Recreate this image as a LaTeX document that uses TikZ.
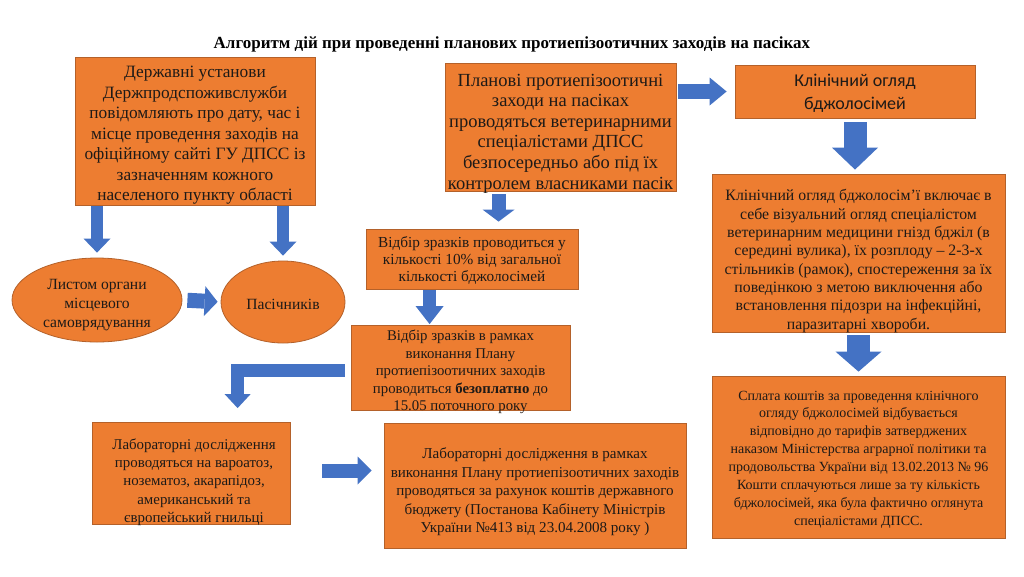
\documentclass[tikz,border=0pt]{standalone}
\usepackage{fontspec}
\setmainfont{Liberation Serif}
\newfontfamily\calibrifont{Carlito}
\usetikzlibrary{arrows.meta,calc,shapes.geometric}
\definecolor{boxfill}{HTML}{ED7D31}
\definecolor{boxline}{HTML}{B4612A}
\definecolor{arrowblue}{HTML}{4472C4}
\definecolor{txt}{HTML}{1E1A17}
\begin{document}
\begin{tikzpicture}[x=1pt,y=-1pt,
  box/.style={draw=boxline, line width=0.8pt, fill=boxfill, inner sep=0pt},
  oval/.style={ellipse, draw=boxline, line width=0.8pt, fill=boxfill, inner sep=0pt},
  label text/.style={align=center, inner sep=0pt, text=txt},
  barrow/.style n args={3}{draw=arrowblue, line width=#1, line join=miter,
     -{Triangle[width=#2,length=#3,line width=0pt,fill=arrowblue]}},
  f/.style n args={2}{font=\fontsize{#1}{#2}\selectfont}
]
\useasboundingbox (0,0) rectangle (1024,576);
\fill[white] (0,0) rectangle (1024,576);

\node[font=\bfseries\fontsize{17}{19}\selectfont, text=black] (title) at (512,44)
  {Алгоритм дій при проведенні планових протиепізоотичних заходів на пасіках};

% boxes
\node[box, minimum width=240pt, minimum height=148pt] (b1) at (195,131) {};
\node[box, minimum width=231pt, minimum height=128pt] (b2) at (560.5,127) {};
\node[box, minimum width=240pt, minimum height=53pt] (b3) at (855,91.5) {};
\node[box, minimum width=293pt, minimum height=158pt] (b4) at (858.5,253) {};
\node[box, minimum width=293pt, minimum height=162pt] (b5) at (858.5,457) {};
\node[box, minimum width=212pt, minimum height=60pt] (b6) at (472,259) {};
\node[box, minimum width=219pt, minimum height=85pt] (b7) at (460.5,368) {};
\node[box, minimum width=198pt, minimum height=102pt] (b8) at (191,473.5) {};
\node[box, minimum width=302pt, minimum height=125pt] (b9) at (535,485.5) {};
\node[oval, minimum width=170pt, minimum height=84pt] (e1) at (97,300) {};
\node[oval, minimum width=124pt, minimum height=82pt] (e2) at (283,302) {};

% texts
\node[label text, f={17.3}{20.5}] (t1) at ($(b1.center)+(0,4.5)$)
  {Державні установи\\Держпродспоживслужби\\повідомляють про дату, час і\\місце проведення заходів на\\офіційному сайті ГУ ДПСС  із\\зазначенням кожного\\населеного пункту області};

\node[label text, f={18.5}{20.6}] (t2) at ($(b2.center)+(0,6.5)$)
  {Планові протиепізоотичні\\заходи на пасіках\\проводяться ветеринарними\\спеціалістами ДПСС\\безпосередньо або під їх\\контролем власниками пасік};

\node[label text, font=\calibrifont\fontsize{18}{23}\selectfont] (t3) at ($(b3.center)+(0,2)$)
  {Клінічний огляд\\бджолосімей};

\node[label text, f={15.8}{18.3}] (t4) at ($(b4.center)+(0,8)$)
  {Клінічний огляд бджолосім’ї включає в\\себе візуальний огляд спеціалістом\\ветеринарним медицини гнізд бджіл (в\\середині вулика), їх розплоду – 2-3-х\\стільників (рамок), спостереження за їх\\поведінкою з метою виключення або\\встановлення підозри на інфекційні,\\паразитарні хвороби.};

\node[label text, f={14}{17.9}] (t5) at ($(b5.center)+(0,2.5)$)
  {Сплата коштів за проведення клінічного\\огляду бджолосімей  відбувається\\відповідно до тарифів затверджених\\наказом Міністерства аграрної політики та\\продовольства України від 13.02.2013 № 96\\Кошти сплачуються лише за ту кількість\\бджолосімей, яка була фактично оглянута\\спеціалістами ДПСС.};

\node[label text, f={15.3}{17.3}] (t6) at ($(b6.center)+(0,1.5)$)
  {Відбір зразків проводиться у\\кількості 10\% від загальної\\кількості бджолосімей};

\node[label text, f={14.8}{17.5}] (t7) at ($(b7.center)+(0,4)$)
  {Відбір зразків в рамках\\виконання Плану\\протиепізоотичних заходів\\проводиться \textbf{безоплатно} до\\15.05 поточного року};

\node[label text, f={14.9}{18.3}] (t8) at ($(b8.center)+(3,8.5)$)
  {Лабораторні дослідження\\проводяться на вароатоз,\\нозематоз, акарапідоз,\\американський та\\європейський гнильці};

\node[label text, f={15.1}{18.5}] (t9) at ($(b9.center)+(0,6.5)$)
  {Лабораторні дослідження в рамках\\виконання Плану протиепізоотичних заходів\\проводяться за рахунок коштів державного\\бюджету (Постанова Кабінету Міністрів\\України №413 від 23.04.2008 року )};

\node[label text, f={15.6}{18.7}] (te1) at ($(e1.center)+(0,5)$)
  {Листом органи\\місцевого\\самоврядування};

\node[label text, f={15.6}{18.7}] (te2) at ($(e2.center)+(0,2)$)
  {Пасічників};

% helper points on box edges
\coordinate (p26) at ($(b2.south west)+(54,0)$);
\coordinate (p67) at ($(b6.south west)+(64,0)$);
\coordinate (p78) at ($(b8.north west)+(146,0)$);

% arrows
\draw[barrow={12pt}{27pt}{14pt}, shorten <=1pt, shorten >=5pt] (b1.south -| e1.north) -- (e1.north);
\draw[barrow={12pt}{27pt}{14pt}, shorten <=1pt, shorten >=5pt] (b1.south -| e2.north) -- (e2.north);
\draw[barrow={15pt}{30pt}{13pt}, shorten <=5pt, shorten >=3pt] (e1.east) -- (e2.west);
\draw[barrow={15pt}{28pt}{17pt}, shorten <=2pt, shorten >=8pt] (b2.east |- b3.west) -- (b3.west);
\draw[barrow={23pt}{46pt}{22pt}, shorten <=4pt, shorten >=4pt] (b3.south) -- (b3.south |- b4.north);
\draw[barrow={23pt}{46pt}{20pt}, shorten <=3pt, shorten >=4pt] (b4.south) -- (b4.south |- b5.north);
\draw[barrow={14pt}{32pt}{12pt}, shorten <=3pt, shorten >=7pt] (p26) -- (p26 |- b6.north);
\draw[barrow={13pt}{28pt}{18pt}, shorten <=1pt, shorten >=1pt] (p67) -- (p67 |- b7.north);
\draw[barrow={13pt}{26pt}{14pt}, shorten <=6pt, shorten >=14pt] ($(b7.west)+(0,2)$) -| (p78);
\draw[barrow={14pt}{28pt}{14pt}, shorten <=32pt, shorten >=12pt] ($(b8.east)+(0,-3)$) -- ($(b8.east -| b9.west)+(0,-3)$);
\end{tikzpicture}
\end{document}
